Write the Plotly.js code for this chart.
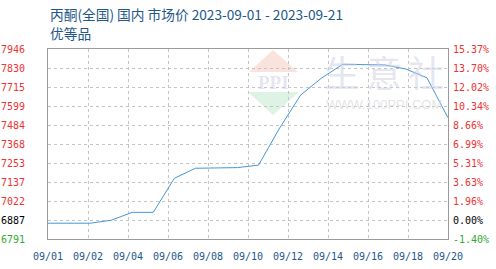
<!DOCTYPE html>
<html>
<head>
<meta charset="utf-8">
<script src="https://cdn.plot.ly/plotly-3.0.1.min.js"></script>
<style>html,body{margin:0;padding:0;background:#fff;}#chart{width:496px;height:269px;}</style>
</head>
<body>
<div id="chart"></div>
<script>
// ---- data ----
var dates = ['2023-09-01','2023-09-02','2023-09-03','2023-09-04','2023-09-05','2023-09-06','2023-09-07',
             '2023-09-08','2023-09-09','2023-09-10','2023-09-11','2023-09-12','2023-09-13','2023-09-14',
             '2023-09-15','2023-09-16','2023-09-17','2023-09-18','2023-09-19','2023-09-20'];
var prices = [6887,6887,6887,6905,6953,6953,7160,7221,7221,7225,7240,7465,7666,7770,7853,7853,7849,7824,7771,7528];

var xTickLabels = ['09/01','09/02','09/04','09/06','09/08','09/10','09/12','09/14','09/16','09/18','09/20'];
var yMin = 6791, yMax = 7946;
var leftLabels  = ['6791','6887','7022','7137','7253','7368','7484','7599','7715','7830','7946'];
var rightLabels = ['-1.40%','0.00%','1.96%','3.63%','5.31%','6.99%','8.66%','10.34%','12.02%','13.70%','15.37%'];
var labelColors = ['#33aa33','#000000','#ee3333','#ee3333','#ee3333','#ee3333','#ee3333','#ee3333','#ee3333','#ee3333','#ee3333'];

var titleLine1 = '丙酮(全国) 国内 市场价 2023-09-01 - 2023-09-21';
var titleLine2 = '优等品';

// ---- ticks ----
var nDiv = 10;
var yTickVals = [];
for (var i = 0; i <= nDiv; i++) yTickVals.push(yMin + (yMax - yMin) * i / nDiv);
var xTickVals = [];
for (var j = 0; j <= nDiv; j++) xTickVals.push((dates.length - 1) * j / nDiv);
var xIdx = dates.map(function (d, k) { return k; });
function colored(arr) {
  return arr.map(function (s, k) { return '<span style="color:' + labelColors[k] + '">' + s + '</span>'; });
}

var tickFont = {family: 'DejaVu Sans Mono, monospace', size: 10, color: '#ee3333'};

var trace = {
  x: xIdx, y: prices, text: dates,
  type: 'scatter', mode: 'lines',
  line: {color: '#4596d8', width: 1}
};

var wm = 'rgba(205,208,228,0.55)';
function px(x) { return (x - 48) / 400; }
function py(y) { return (239 - y) / 190; }

var annotations = [
  {xref: 'paper', yref: 'paper', x: 0, xanchor: 'left', y: py(14), yanchor: 'middle', text: titleLine1,
   showarrow: false, font: {family: 'Noto Sans CJK SC, sans-serif', size: 13.7, color: '#22578a'}},
  {xref: 'paper', yref: 'paper', x: 0, xanchor: 'left', y: py(33), yanchor: 'middle', text: titleLine2,
   showarrow: false, font: {family: 'Noto Sans CJK SC, sans-serif', size: 13.7, color: '#22578a'}},
  {xref: 'paper', yref: 'paper', x: px(273), xanchor: 'center', y: py(82), yanchor: 'middle', text: '<b>PPI</b>', showarrow: false,
   font: {family: 'Liberation Serif, serif', size: 19, color: wm}},
  {xref: 'paper', yref: 'paper', x: px(342), xanchor: 'center', y: py(71), yanchor: 'middle', text: '生', showarrow: false,
   font: {family: 'Noto Sans CJK SC, sans-serif', size: 36, color: wm}},
  {xref: 'paper', yref: 'paper', x: px(384), xanchor: 'center', y: py(71), yanchor: 'middle', text: '意', showarrow: false,
   font: {family: 'Noto Sans CJK SC, sans-serif', size: 36, color: wm}},
  {xref: 'paper', yref: 'paper', x: px(426), xanchor: 'center', y: py(71), yanchor: 'middle', text: '社', showarrow: false,
   font: {family: 'Noto Sans CJK SC, sans-serif', size: 36, color: wm}},
  {xref: 'paper', yref: 'paper', x: px(384), xanchor: 'center', y: py(104), yanchor: 'middle', text: 'WWW.100PPI.COM', showarrow: false,
   font: {family: 'Liberation Sans, sans-serif', size: 13, color: 'rgba(215,215,220,0.7)'}}
];
rightLabels.forEach(function (s, k) {
  annotations.push({xref: 'paper', yref: 'y', x: 1, xanchor: 'left', xshift: 3, y: yTickVals[k], yanchor: 'middle',
    text: s, showarrow: false, font: {family: tickFont.family, size: 10, color: labelColors[k]}});
});

var layout = {
  width: 496, height: 269,
  margin: {l: 48, r: 48, t: 49, b: 30, pad: 0},
  paper_bgcolor: '#ffffff',
  plot_bgcolor: '#ffffff',
  showlegend: false,
  xaxis: {
    range: [0, dates.length - 1],
    tickmode: 'array', tickvals: xTickVals, ticktext: xTickLabels,
    tickfont: {family: 'DejaVu Sans Mono, monospace', size: 10, color: '#22578a'},
    ticks: 'outside', ticklen: 8, tickcolor: '#ffffff',
    showgrid: true, gridcolor: '#c4c4c4', gridwidth: 1, griddash: 'dot',
    showline: true, linecolor: '#9a9a9a', linewidth: 1, mirror: true,
    zeroline: false, fixedrange: true
  },
  yaxis: {
    range: [yMin, yMax],
    tickmode: 'array', tickvals: yTickVals, ticktext: colored(leftLabels),
    tickfont: tickFont,
    ticks: 'outside', ticklen: 20, tickcolor: '#ffffff',
    showgrid: true, gridcolor: '#c4c4c4', gridwidth: 1, griddash: 'dot',
    showline: true, linecolor: '#9a9a9a', linewidth: 1, mirror: true,
    zeroline: false, fixedrange: true
  },
  shapes: [
    {type: 'path', xref: 'paper', yref: 'paper', layer: 'below', line: {width: 0},
     fillcolor: 'rgba(244,190,180,0.45)',
     path: 'M ' + px(273) + ' ' + py(50) + ' L ' + px(298) + ' ' + py(72) + ' L ' + px(249) + ' ' + py(72) + ' Z'},
    {type: 'path', xref: 'paper', yref: 'paper', layer: 'below', line: {width: 0},
     fillcolor: 'rgba(185,228,195,0.45)',
     path: 'M ' + px(248) + ' ' + py(92) + ' L ' + px(299) + ' ' + py(92) + ' L ' + px(273) + ' ' + py(115) + ' Z'}
  ],
  annotations: annotations
};

Plotly.newPlot('chart', [trace], layout, {displayModeBar: false, staticPlot: true});
</script>
</body>
</html>
